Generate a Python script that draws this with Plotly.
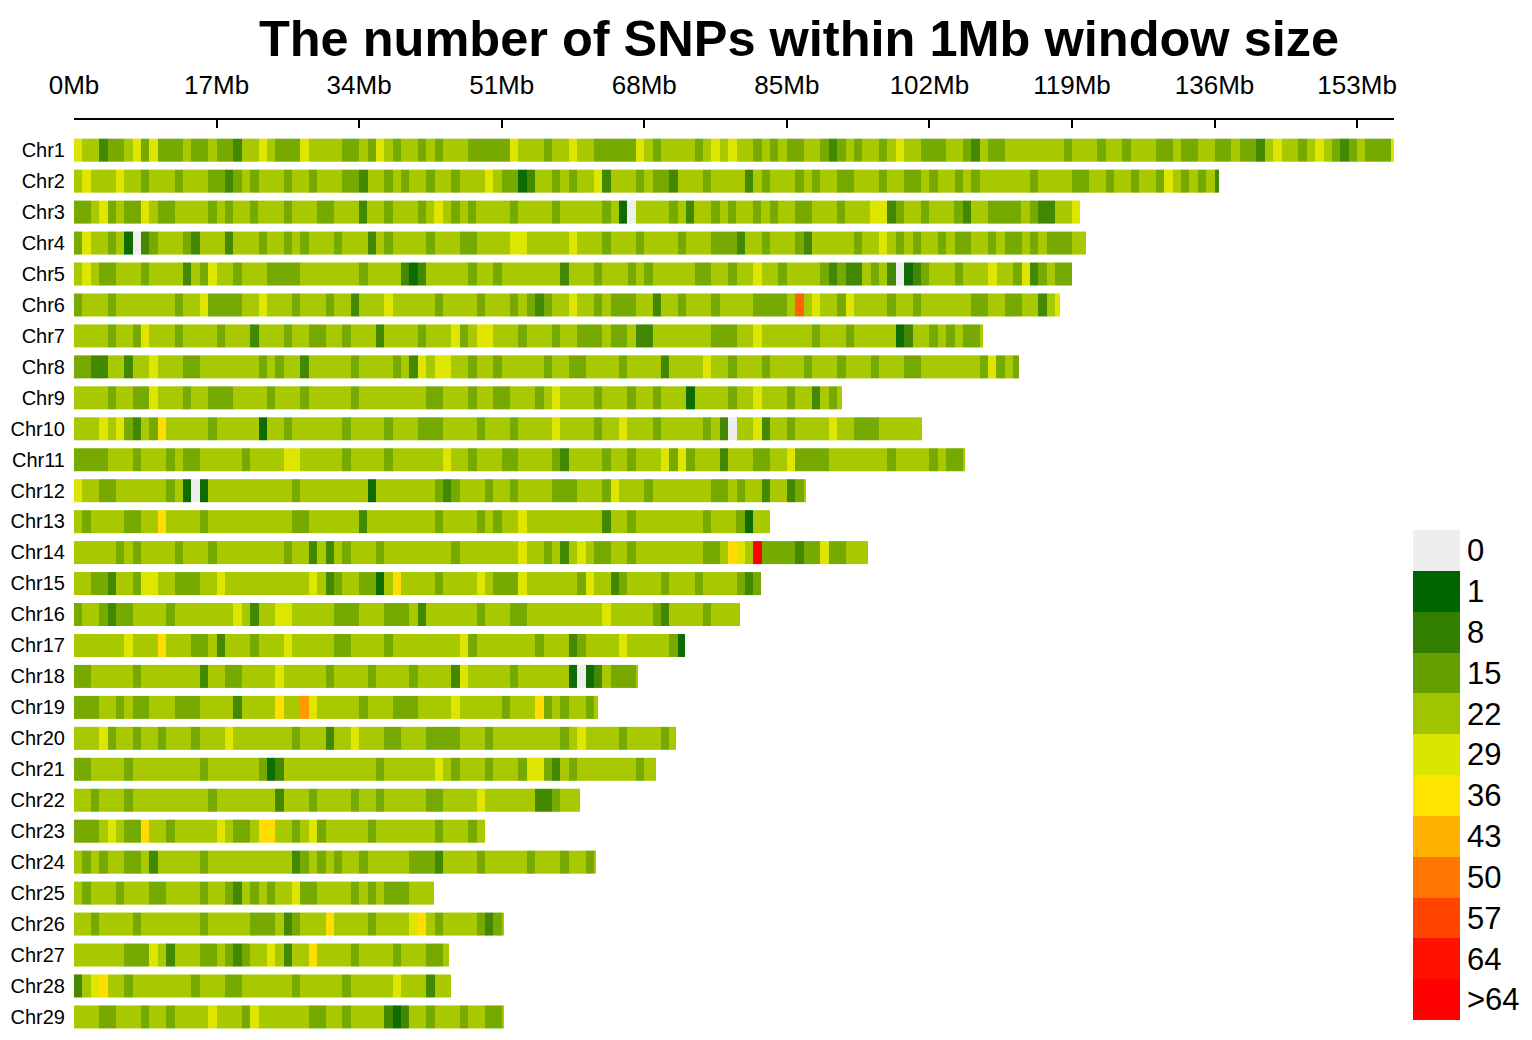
import plotly.graph_objects as go

# ---------------- data ----------------
chrom_names = [f"Chr{i}" for i in range(1, 30)]
chrom_len_mb = [157.4, 136.5, 120.0, 120.7, 119.0, 117.6, 108.4, 112.7, 91.6, 101.1,
                106.2, 87.3, 83.0, 94.7, 81.9, 79.4, 72.9, 67.2, 62.5, 71.8,
                69.4, 60.3, 49.0, 62.3, 42.9, 51.3, 44.7, 44.9, 51.3]

# SNP-count level of every 1 Mb window (one char per window)
# code -> approximate SNP count of the window (see level_count below)
density_class = [
    "5442334535 3334334332 4454333544 4433435434 4343444333 3354443445 4433333543 4444345454 4343433443 2343443454 4333443243 3444444434 4434434443 3433443343 3245443454 32343335",
    "4544454434 4434443323 4344434434 4433244343 4434434445 4331244343 4452444343 3244434444 2434443434 4334443443 3434434344 4444344443 3443443443 5434342",
    "3345343354 3344443434 4344434443 3444244344 4345434344 4434444344 4443410444 4342443434 4343443344 4344455234 4344432443 3334322445",
    "3544341023 4443244424 4434434344 4344424344 4434443344 4455444445 4443444344 4434443332 4434443244 4443445434 3443433443 4334343334 4",
    "4543344434 4442435443 4443333444 4444344442 1244444344 3444444424 4434443434 4444334434 4544344443 2322434201 2344434445 443523433",
    "3444344444 4434453333 4454443444 3442444544 4443444434 4434323445 4434333442 4434443444 4333348454 4354444344 3444444334 43344245",
    "4444344354 4434444344 4244434433 4434442444 4344453455 4443444344 3334334224 4444443334 4544444434 4434444412 443434334",
    "3322442445 4443344444 4434344244 4443444434 2545544344 3444443443 3444434444 2444454434 4434444344 4344434443 3444444435 343",
    "4444344335 4443443334 4443444344 4443444444 4433444344 3344434544 4434443443 4441444434 4544434424 34",
    "4445453243 6444443444 4414434444 4434444344 4333444434 4434444544 4434454443 4444434204 4524434444 5443334444 44",
    "3333444344 4343344444 3444455444 4434444344 4444544344 4334444324 4443443444 5353444244 4334453333 4444444344 4434334",
    "5443344444 4341014444 4444443444 4444414444 4443234443 4434444333 4443544434 4444443343 44244234",
    "4344443344 6444434444 4444443344 4444244444 4443444434 3445444444 4442443444 4444434443 144",
    "4444434344 4434443444 4444434424 2434443444 4444434444 4445443424 5433443444 4444433465 4b33332335 33444",
    "4433244355 4433344544 4444444454 2344331464 4443444454 3335444444 3544234444 3444344443 23",
    "3443233444 4344444445 4244554444 4333444333 4244444434 4433444444 4445444443 2444434444",
    "4444445444 6444334244 4344454444 4334444344 4444445344 4444434442 3444454444 431",
    "3344444344 4444424433 4444544444 3444434444 3444425444 4434444441 01243334",
    "3334434334 4433344442 4444644754 4444344433 3444454444 4344463434 434",
    "4445344344 3444344454 4444443444 2445444334 4433334443 4444444434 5444434444 34",
    "3344443444 4444434444 4431244444 4444443444 4445434443 4443553243 4444444344",
    "4434443444 4444443444 4444244434 4443443444 4433444454 4444422344 4",
    "3334543364 4344444543 3466443453 4444434444 444344434",
    "4343443342 4444434444 4444442343 4344344444 3332444434 4444344434 434",
    "4344434443 3444434432 4343445334 4443434333 444",
    "4434444344 4444434444 4333423444 6444434444 5643444432 34",
    "4444443335 4244433432 3445424464 4443444434 44334",
    "2456443444 4444344433 4444443444 4434444454 44244",
    "4443344434 4344445444 3544444433 4434444212 4434443443 34",
]
level_codes = "0123456789ab"
level_count = [0, 3, 10, 17, 23, 30, 37, 46, 53, 60, 64, 72]

legend_labels = ["0", "1", "8", "15", "22", "29", "36", "43", "50", "57", "64", ">64"]
legend_values = [0, 1, 8, 15, 22, 29, 36, 43, 50, 57, 64, 71]
legend_colors = ["#EEEEEE", "#006400", "#337F00", "#669F00", "#A0C400", "#D8E600",
                 "#FFE400", "#FFB300", "#FF7700", "#FF4500", "#FF1100", "#FF0000"]

axis_ticks_mb = [0, 17, 34, 51, 68, 85, 102, 119, 136, 153]
axis_tick_text = [f"{v}Mb" for v in axis_ticks_mb]

# ---------------- figure ----------------
FONT = "Liberation Sans, Arial, sans-serif"
W, H = 1532, 1040
OFF = 8                     # page offset of the plot div
ML, MT, MB = 74 - OFF, 120 - OFF, 13
PW = W - ML                 # width of the plotting region (r margin = 0)
PH = H - MT - MB
main_right = 1394 - OFF

fig = go.Figure()

half = 0.365
for i, (name, L, s) in enumerate(zip(chrom_names, chrom_len_mb, density_class)):
    s = s.replace(" ", "")
    counts = [level_count[level_codes.index(ch)] for ch in s]
    n = len(counts)
    last = L if (n - 1) < L <= n else n
    edges = list(range(n)) + [last]
    row = i + 1
    fig.add_trace(go.Heatmap(
        z=[counts], x=edges, y=[row - half, row + half],
        coloraxis="coloraxis", hoverinfo="skip", name=name,
        xaxis="x", yaxis="y",
    ))

# continuous palette through the legend colours (bins)
cmax = legend_values[-1]
cs_bins = [[0.0, legend_colors[0]], [0.5 / cmax, legend_colors[0]]]
for v, c in zip(legend_values[1:], legend_colors[1:]):
    cs_bins.append([v / cmax, c])

# discrete legend on its own axes
nl = len(legend_labels)
cs_leg = []
for k in range(nl):
    cs_leg.append([k / nl, legend_colors[k]])
    cs_leg.append([(k + 1) / nl, legend_colors[k]])
fig.add_trace(go.Heatmap(
    z=[[k] for k in range(nl)], x=[0], y=list(range(nl)),
    coloraxis="coloraxis2", hoverinfo="skip", xaxis="x2", yaxis="y2",
))

leg_x0, leg_x1 = 1413 - OFF, 1460 - OFF
leg_y0, leg_y1 = 530 - OFF, 1020 - OFF

fig.update_layout(
    width=W, height=H,
    paper_bgcolor="white", plot_bgcolor="white",
    margin=dict(l=ML, r=0, t=MT, b=MB, pad=0),
    showlegend=False,
    font=dict(family=FONT, color="black"),
    title=dict(
        text="<b>The number of SNPs within 1Mb window size</b>",
        x=(799 - OFF) / W, xref="container", xanchor="center",
        y=1 - (40 - OFF - 2) / H, yref="container", yanchor="middle",
        font=dict(family=FONT, size=50.5, color="black"),
    ),
    coloraxis=dict(cmin=0, cmax=cmax, colorscale=cs_bins, showscale=False),
    coloraxis2=dict(cmin=-0.5, cmax=nl - 0.5, colorscale=cs_leg, showscale=False),
    xaxis=dict(
        domain=[0, (main_right - ML) / PW], anchor="y",
        side="top", range=[0, 157.4],
        showline=True, linecolor="black", linewidth=2,
        ticks="inside", ticklen=8, tickwidth=2, tickcolor="black",
        tickvals=axis_ticks_mb, ticktext=axis_tick_text,
        tickfont=dict(family=FONT, size=26, color="black"),
        ticklabelstandoff=14,
        showgrid=False, zeroline=False, mirror=False, automargin=False,
    ),
    yaxis=dict(
        domain=[0, 1], anchor="x",
        range=[29.59, 0.031],
        tickvals=list(range(1, 30)), ticktext=chrom_names,
        ticks="", showline=False, showgrid=False, zeroline=False,
        tickfont=dict(family=FONT, size=20, color="black"),
        ticklabelstandoff=8, automargin=False,
    ),
    xaxis2=dict(
        domain=[(leg_x0 - ML) / PW, (leg_x1 - ML) / PW], anchor="y2",
        range=[-0.5, 0.5], visible=False, automargin=False,
    ),
    yaxis2=dict(
        domain=[(MT + PH - leg_y1) / PH, (MT + PH - leg_y0) / PH], anchor="x2",
        range=[nl - 0.5, -0.5], side="right",
        tickvals=list(range(nl)), ticktext=legend_labels,
        ticks="", showline=False, showgrid=False, zeroline=False,
        tickfont=dict(family=FONT, size=31, color="black"),
        ticklabelstandoff=6, automargin=False,
    ),
)

fig.write_html("out.html")
